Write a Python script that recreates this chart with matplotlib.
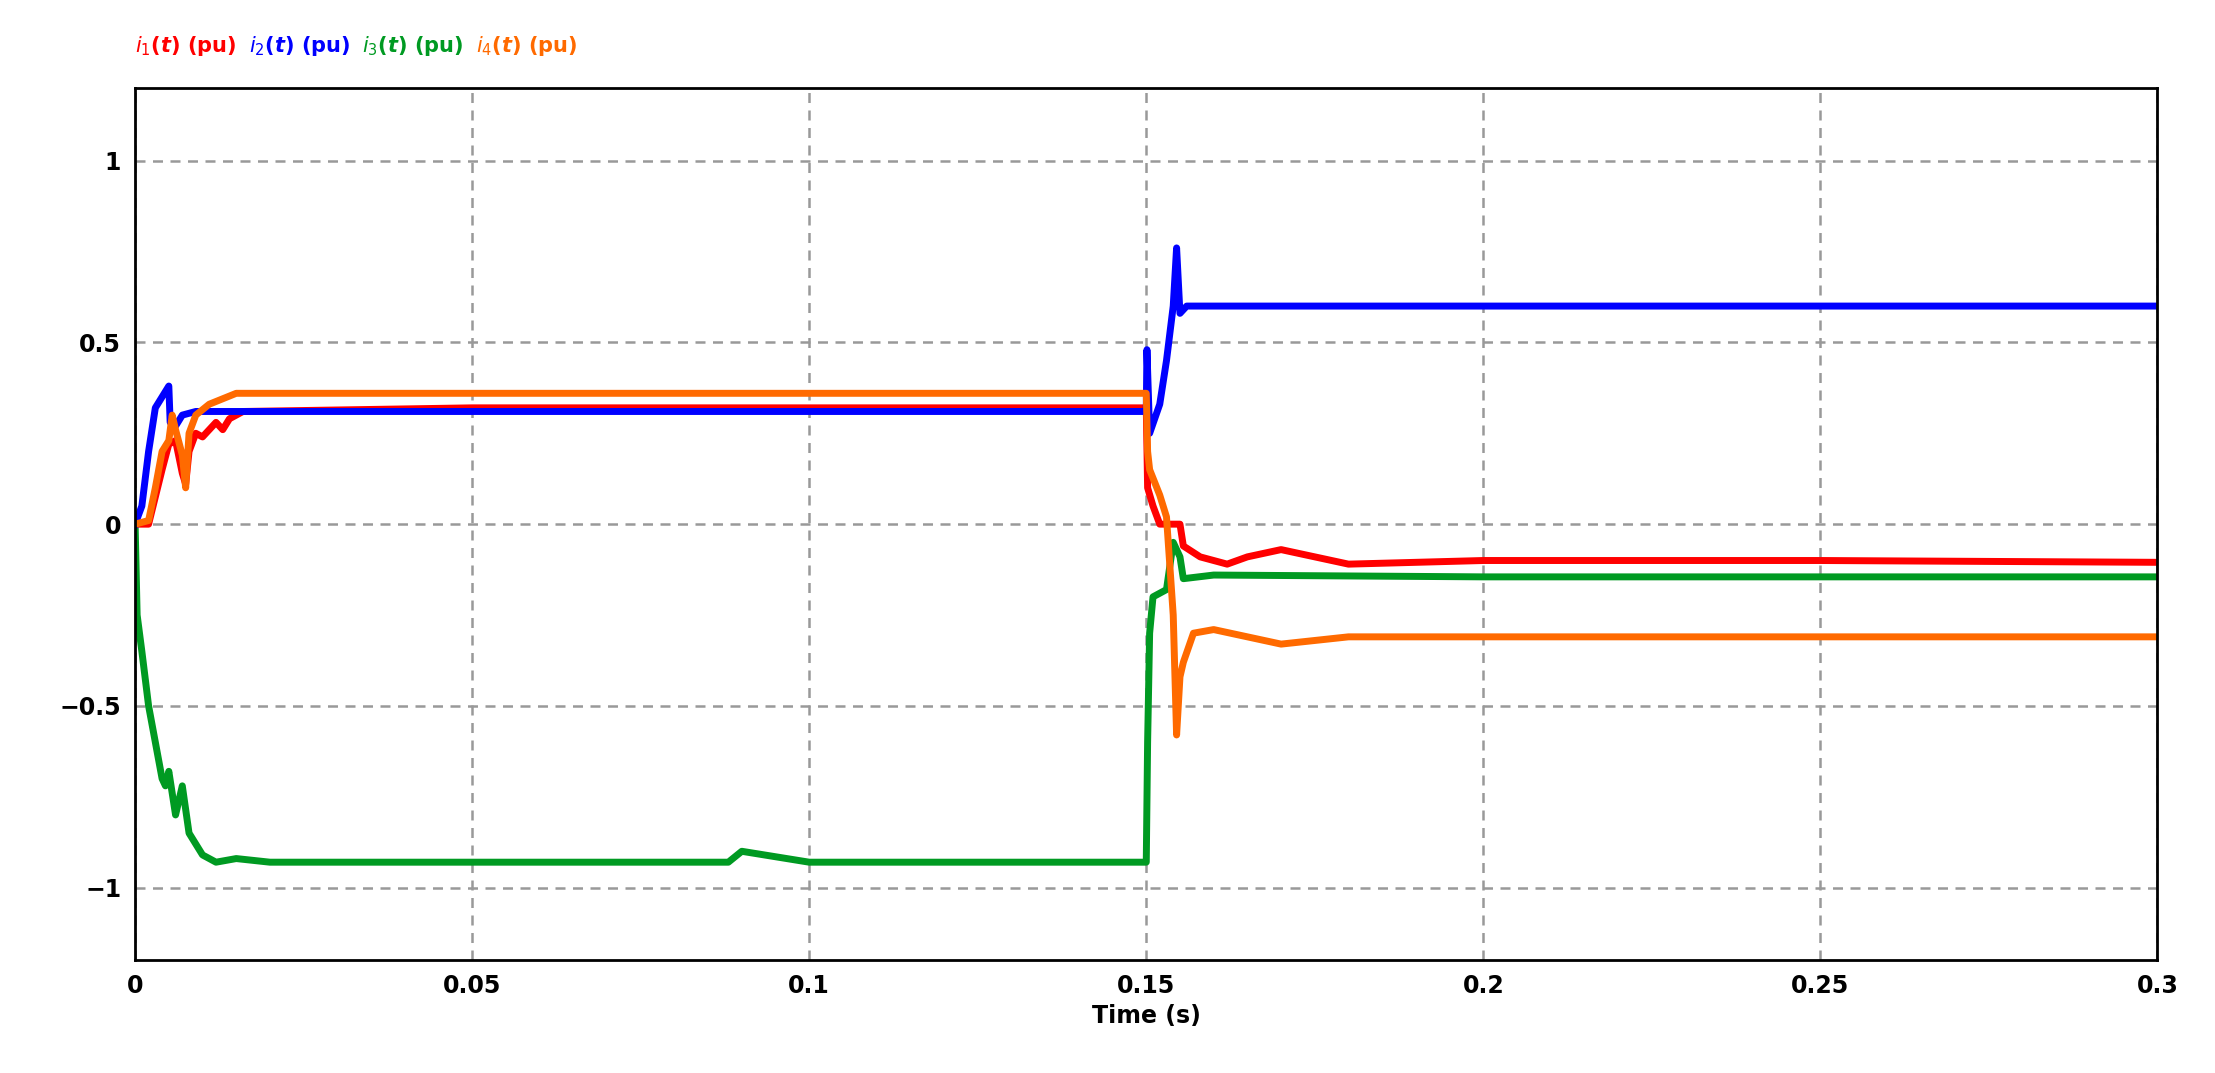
import matplotlib
matplotlib.use('Agg')
import matplotlib.pyplot as plt

# time points and values (pu)
t1 = [0, 0.002, 0.004, 0.005, 0.006, 0.007, 0.0075, 0.008, 0.009, 0.01, 0.012, 0.013, 0.014, 0.016, 0.05, 0.1, 0.15,
      0.1502, 0.151, 0.152, 0.155, 0.1555, 0.158, 0.162, 0.165, 0.17, 0.175, 0.18, 0.2, 0.25, 0.3]
i1 = [0, 0, 0.15, 0.22, 0.23, 0.14, 0.11, 0.2, 0.25, 0.24, 0.28, 0.26, 0.29, 0.31, 0.32, 0.32, 0.32,
      0.1, 0.05, 0, 0, -0.06, -0.09, -0.11, -0.09, -0.07, -0.09, -0.11, -0.1, -0.1, -0.105]

t2 = [0, 0.001, 0.002, 0.003, 0.004, 0.005, 0.0052, 0.006, 0.007, 0.009, 0.05, 0.1, 0.15,
      0.1501, 0.1505, 0.152, 0.153, 0.154, 0.1545, 0.155, 0.156, 0.2, 0.25, 0.3]
i2 = [0, 0.05, 0.2, 0.32, 0.35, 0.38, 0.28, 0.27, 0.3, 0.31, 0.31, 0.31, 0.31,
      0.48, 0.25, 0.33, 0.45, 0.6, 0.76, 0.58, 0.6, 0.6, 0.6, 0.6]

t3 = [0, 0.0003, 0.001, 0.002, 0.003, 0.004, 0.0045, 0.005, 0.006, 0.007, 0.008, 0.009, 0.01, 0.012, 0.015,
      0.02, 0.05, 0.088, 0.09, 0.1, 0.15, 0.1502, 0.1505, 0.151, 0.153, 0.154, 0.155, 0.1555, 0.16, 0.2, 0.3]
i3 = [0, -0.25, -0.35, -0.5, -0.6, -0.7, -0.72, -0.68, -0.8, -0.72, -0.85, -0.88, -0.91, -0.93, -0.92,
      -0.93, -0.93, -0.93, -0.9, -0.93, -0.93, -0.6, -0.3, -0.2, -0.18, -0.05, -0.09, -0.15, -0.14, -0.145, -0.145]

t4 = [0, 0.002, 0.003, 0.004, 0.005, 0.0055, 0.006, 0.007, 0.0075, 0.008, 0.009, 0.011, 0.015, 0.05, 0.1, 0.15,
      0.1502, 0.1505, 0.152, 0.153, 0.154, 0.1545, 0.155, 0.1555, 0.157, 0.16, 0.17, 0.18, 0.2, 0.25, 0.3]
i4 = [0, 0.01, 0.1, 0.2, 0.23, 0.3, 0.26, 0.19, 0.1, 0.25, 0.3, 0.33, 0.36, 0.36, 0.36, 0.36,
      0.2, 0.15, 0.08, 0.02, -0.25, -0.58, -0.42, -0.38, -0.3, -0.29, -0.33, -0.31, -0.31, -0.31, -0.31]

fig = plt.figure(figsize=(22.15, 10.73), dpi=100)
ax = fig.add_axes([0.061, 0.105, 0.913, 0.813])

ax.plot(t3, i3, color='#009a22', lw=5)
ax.plot(t1, i1, color='#ff0000', lw=5)
ax.plot(t2, i2, color='#0000ff', lw=5)
ax.plot(t4, i4, color='#ff6a00', lw=5)

ax.set_xlim(0, 0.3)
ax.set_ylim(-1.2, 1.2)
ax.set_xticks([0, 0.05, 0.1, 0.15, 0.2, 0.25, 0.3])
ax.set_xticklabels(['0', '0.05', '0.1', '0.15', '0.2', '0.25', '0.3'])
ax.set_yticks([-1, -0.5, 0, 0.5, 1])
ax.set_yticklabels(['\u22121', '\u22120.5', '0', '0.5', '1'])
ax.tick_params(labelsize=17, length=0, pad=10)
for lab in ax.get_xticklabels() + ax.get_yticklabels():
    lab.set_fontweight('bold')
ax.grid(True, color='#999999', ls=(0, (4, 3)), lw=1.8)
for s in ax.spines.values():
    s.set_linewidth(2)
ax.set_xlabel('Time (s)', fontsize=17, fontweight='bold', labelpad=4)

legend = [(r'$\boldsymbol{i_1(t)}$ (pu)', '#ff0000'), (r'$\boldsymbol{i_2(t)}$ (pu)', '#0000ff'),
          (r'$\boldsymbol{i_3(t)}$ (pu)', '#009a22'), (r'$\boldsymbol{i_4(t)}$ (pu)', '#ff6a00')]
x = 0.061
for txt, c in legend:
    fig.text(x, 0.957, txt, color=c, fontsize=15, fontweight='bold', va='center')
    x += 0.0513

fig.savefig('out.png', dpi=100)
